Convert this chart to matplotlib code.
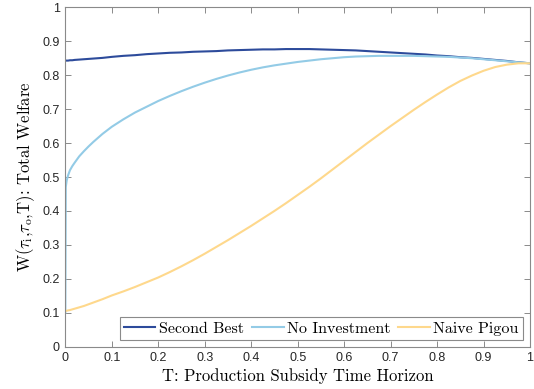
import matplotlib
matplotlib.use("Agg")
import matplotlib.pyplot as plt

plt.rcParams["mathtext.fontset"] = "cm"
plt.rcParams["font.family"] = ["Liberation Sans", "DejaVu Sans"]

# Subsidy time horizon grid
T = [0.0, 0.001, 0.003, 0.006, 0.01, 0.015, 0.02, 0.03, 0.04, 0.05, 0.06, 0.08,
     0.1, 0.125, 0.15, 0.175, 0.2, 0.225, 0.25, 0.275, 0.3, 0.325, 0.35, 0.375,
     0.4, 0.425, 0.45, 0.475, 0.5, 0.525, 0.55, 0.575, 0.6, 0.625, 0.65, 0.675,
     0.7, 0.725, 0.75, 0.775, 0.8, 0.825, 0.85, 0.875, 0.9, 0.925, 0.95, 0.975,
     1.0]

second_best = [0.843, 0.843, 0.843, 0.843, 0.844, 0.844, 0.845, 0.846, 0.847,
               0.848, 0.849, 0.851, 0.854, 0.857, 0.859, 0.862, 0.864, 0.866,
               0.867, 0.869, 0.870, 0.871, 0.873, 0.874, 0.875, 0.876, 0.876,
               0.877, 0.877, 0.877, 0.876, 0.875, 0.874, 0.873, 0.871, 0.869,
               0.867, 0.865, 0.863, 0.861, 0.858, 0.856, 0.853, 0.851, 0.848,
               0.845, 0.842, 0.838, 0.835]

no_investment = [0.100, 0.470, 0.490, 0.505, 0.520, 0.532, 0.542, 0.561, 0.576,
                 0.590, 0.603, 0.627, 0.648, 0.670, 0.690, 0.707, 0.724, 0.739,
                 0.753, 0.766, 0.778, 0.789, 0.799, 0.808, 0.816, 0.823, 0.829,
                 0.834, 0.839, 0.843, 0.847, 0.850, 0.853, 0.855, 0.856, 0.857,
                 0.857, 0.857, 0.857, 0.856, 0.855, 0.854, 0.852, 0.850, 0.847,
                 0.844, 0.841, 0.838, 0.835]

naive_pigou = [0.105, 0.105, 0.106, 0.107, 0.108, 0.110, 0.112, 0.116, 0.120,
               0.125, 0.130, 0.140, 0.151, 0.163, 0.176, 0.190, 0.204, 0.220,
               0.237, 0.255, 0.274, 0.294, 0.314, 0.335, 0.356, 0.378, 0.400,
               0.423, 0.447, 0.471, 0.496, 0.522, 0.548, 0.574, 0.600, 0.625,
               0.650, 0.674, 0.698, 0.721, 0.743, 0.764, 0.783, 0.799, 0.813,
               0.824, 0.831, 0.835, 0.835]

labels = ["Second Best", "No Investment", "Naive Pigou"]
colors = ["#2d4b9b", "#93cbe6", "#fed88c"]

fig = plt.figure(figsize=(5.34, 3.89), dpi=100)
ax = fig.add_axes([0.1223, 0.1087, 0.8702, 0.8725])

for ys, lab, c in zip([second_best, no_investment, naive_pigou], labels, colors):
    ax.plot(T, ys, color=c, lw=1.5, label=lab, solid_joinstyle="round")

ax.set_xlim(0, 1)
ax.set_ylim(0, 1)
ticks = [0, 0.1, 0.2, 0.3, 0.4, 0.5, 0.6, 0.7, 0.8, 0.9, 1]
tick_labels = ["0", "0.1", "0.2", "0.3", "0.4", "0.5", "0.6", "0.7", "0.8", "0.9", "1"]
ax.set_xticks(ticks, tick_labels)
ax.set_yticks(ticks, tick_labels)
ax.tick_params(direction="in", length=4, width=0.7, color="#8a8a8a",
               labelsize=9, labelcolor="#262626", top=True, right=True, pad=4)
for s in ax.spines.values():
    s.set_color("#8a8a8a")
    s.set_linewidth(0.8)

serif = "cmr10"
ax.set_xlabel("T: Production Subsidy Time Horizon", family=serif,
              fontsize=12, labelpad=3)
ax.set_ylabel(r"W($\tau_{\mathrm{i}}$,$\tau_{\mathrm{o}}$,T): Total Welfare",
              family=serif, fontsize=12, labelpad=4)

leg = ax.legend(loc="lower right", ncol=3, frameon=True,
                prop={"family": serif, "size": 11.5},
                fancybox=False, framealpha=1, edgecolor="#8a8a8a",
                handlelength=2.0, handletextpad=0.2, columnspacing=0.5,
                borderaxespad=0.45, borderpad=0.25)
leg.get_frame().set_linewidth(0.8)

fig.savefig("out.png", dpi=100)
